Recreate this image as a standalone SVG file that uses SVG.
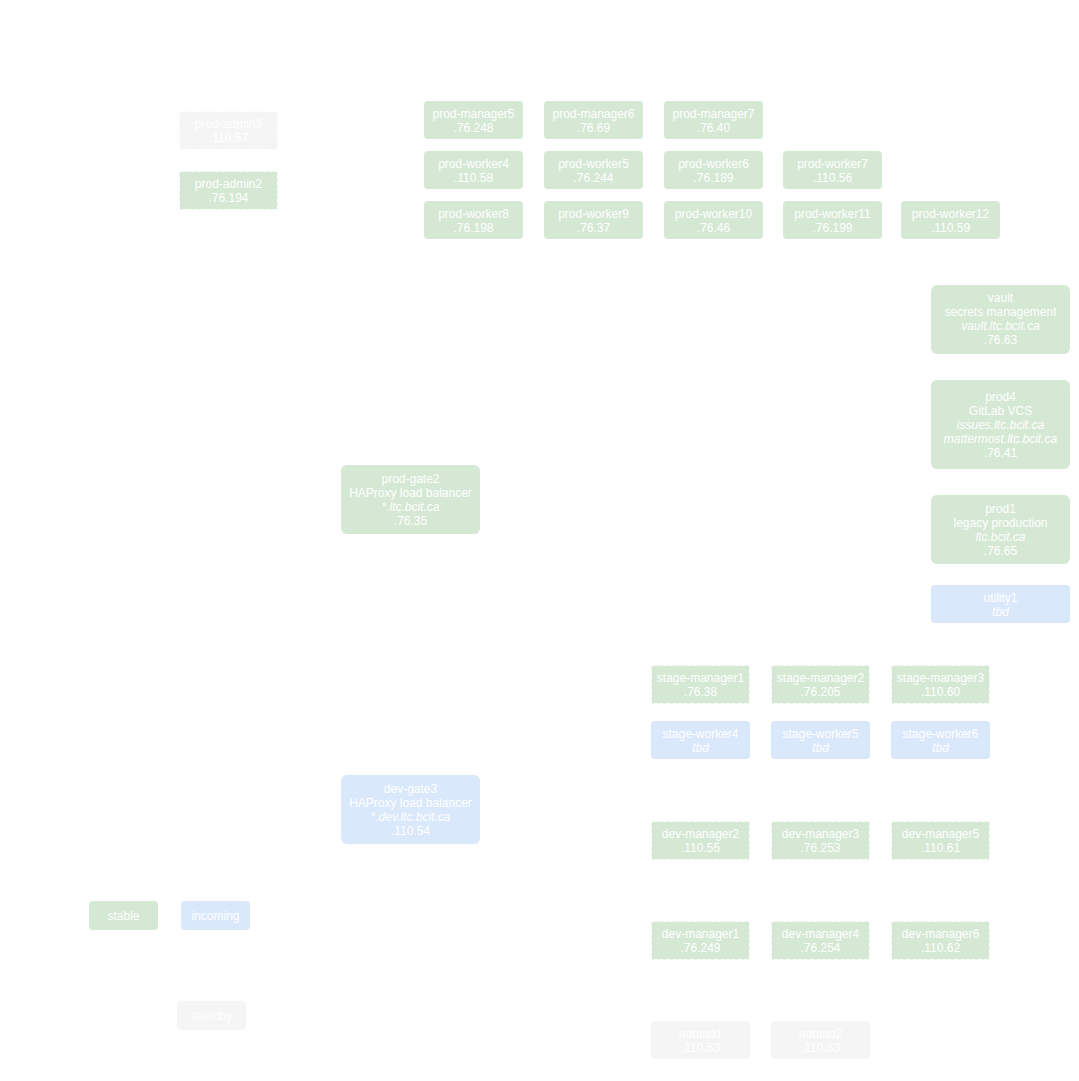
<svg xmlns="http://www.w3.org/2000/svg" width="1079" height="1081" viewBox="0 0 1079 1081">
<style>
.g{fill:#d5e8d4}
.b{fill:#dae8fc}
.s{fill:#f5f5f5}
.d{stroke:#ffffff;stroke-width:1;stroke-dasharray:3 3}
text{font-family:"Liberation Sans",Arial,Helvetica,sans-serif;font-size:12px;fill:#ffffff;text-anchor:middle}
.i{font-style:italic}
</style>
<rect width="1079" height="1081" fill="#ffffff"/>
<g id="connectors"></g>
<g transform="translate(0,1)">
<g id="prod-admin3"><rect class="s d" x="179.5" y="110.5" width="98" height="38"/><text x="228.5" y="127">prod-admin3</text><text x="228.5" y="141">.110.57</text></g>
<g id="prod-admin2"><rect class="g d" x="179.5" y="170.5" width="98" height="38"/><text x="228.5" y="187">prod-admin2</text><text x="228.5" y="201">.76.194</text></g>

<g id="prod-manager5"><rect class="g" x="424" y="100" width="99" height="38" rx="4"/><text x="473.5" y="117">prod-manager5</text><text x="473.5" y="131">.76.248</text></g>
<g id="prod-manager6"><rect class="g" x="544" y="100" width="99" height="38" rx="4"/><text x="593.5" y="117">prod-manager6</text><text x="593.5" y="131">.76.69</text></g>
<g id="prod-manager7"><rect class="g" x="664" y="100" width="99" height="38" rx="4"/><text x="713.5" y="117">prod-manager7</text><text x="713.5" y="131">.76.40</text></g>

<g id="prod-worker4"><rect class="g" x="424" y="150" width="99" height="38" rx="4"/><text x="473.5" y="167">prod-worker4</text><text x="473.5" y="181">.110.58</text></g>
<g id="prod-worker5"><rect class="g" x="544" y="150" width="99" height="38" rx="4"/><text x="593.5" y="167">prod-worker5</text><text x="593.5" y="181">.76.244</text></g>
<g id="prod-worker6"><rect class="g" x="664" y="150" width="99" height="38" rx="4"/><text x="713.5" y="167">prod-worker6</text><text x="713.5" y="181">.76.189</text></g>
<g id="prod-worker7"><rect class="g" x="783" y="150" width="99" height="38" rx="4"/><text x="832.5" y="167">prod-worker7</text><text x="832.5" y="181">.110.56</text></g>

<g id="prod-worker8"><rect class="g" x="424" y="200" width="99" height="38" rx="4"/><text x="473.5" y="217">prod-worker8</text><text x="473.5" y="231">.76.198</text></g>
<g id="prod-worker9"><rect class="g" x="544" y="200" width="99" height="38" rx="4"/><text x="593.5" y="217">prod-worker9</text><text x="593.5" y="231">.76.37</text></g>
<g id="prod-worker10"><rect class="g" x="664" y="200" width="99" height="38" rx="4"/><text x="713.5" y="217">prod-worker10</text><text x="713.5" y="231">.76.46</text></g>
<g id="prod-worker11"><rect class="g" x="783" y="200" width="99" height="38" rx="4"/><text x="832.5" y="217">prod-worker11</text><text x="832.5" y="231">.76.199</text></g>
<g id="prod-worker12"><rect class="g" x="901" y="200" width="99" height="38" rx="4"/><text x="950.5" y="217">prod-worker12</text><text x="950.5" y="231">.110.59</text></g>

<g id="vault"><rect class="g" x="931" y="284" width="139" height="69" rx="6"/><text x="1000.5" y="301">vault</text><text x="1000.5" y="315">secrets management</text><text class="i" x="1000.5" y="329">vault.ltc.bcit.ca</text><text x="1000.5" y="343">.76.63</text></g>
<g id="prod4"><rect class="g" x="931" y="379" width="139" height="89" rx="6"/><text x="1000.5" y="400">prod4</text><text x="1000.5" y="414">GitLab VCS</text><text class="i" x="1000.5" y="428">issues.ltc.bcit.ca</text><text class="i" x="1000.5" y="442">mattermost.ltc.bcit.ca</text><text x="1000.5" y="456">.76.41</text></g>
<g id="prod1"><rect class="g" x="931" y="494" width="139" height="69" rx="6"/><text x="1000.5" y="512">prod1</text><text x="1000.5" y="526">legacy production</text><text class="i" x="1000.5" y="540">ltc.bcit.ca</text><text x="1000.5" y="554">.76.65</text></g>
<g id="utility1"><rect class="b" x="931" y="584" width="139" height="38" rx="4"/><text x="1000.5" y="601">utility1</text><text class="i" x="1000.5" y="615">tbd</text></g>

<g id="prod-gate2"><rect class="g" x="341" y="464" width="139" height="69" rx="6"/><text x="410.5" y="482">prod-gate2</text><text x="410.5" y="496">HAProxy load balancer</text><text class="i" x="410.5" y="510">*.ltc.bcit.ca</text><text x="410.5" y="524">.76.35</text></g>
<g id="dev-gate3"><rect class="b" x="341" y="774" width="139" height="69" rx="6"/><text x="410.5" y="792">dev-gate3</text><text x="410.5" y="806">HAProxy load balancer</text><text class="i" x="410.5" y="820">*.dev.ltc.bcit.ca</text><text x="410.5" y="834">.110.54</text></g>

<g id="stage-manager1"><rect class="g d" x="651.5" y="664.5" width="98" height="38"/><text x="700.5" y="681">stage-manager1</text><text x="700.5" y="695">.76.38</text></g>
<g id="stage-manager2"><rect class="g d" x="771.5" y="664.5" width="98" height="38"/><text x="820.5" y="681">stage-manager2</text><text x="820.5" y="695">.76.205</text></g>
<g id="stage-manager3"><rect class="g d" x="891.5" y="664.5" width="98" height="38"/><text x="940.5" y="681">stage-manager3</text><text x="940.5" y="695">.110.60</text></g>

<g id="stage-worker4"><rect class="b" x="651" y="720" width="99" height="38" rx="4"/><text x="700.5" y="737">stage-worker4</text><text class="i" x="700.5" y="751">tbd</text></g>
<g id="stage-worker5"><rect class="b" x="771" y="720" width="99" height="38" rx="4"/><text x="820.5" y="737">stage-worker5</text><text class="i" x="820.5" y="751">tbd</text></g>
<g id="stage-worker6"><rect class="b" x="891" y="720" width="99" height="38" rx="4"/><text x="940.5" y="737">stage-worker6</text><text class="i" x="940.5" y="751">tbd</text></g>

<g id="dev-manager2"><rect class="g d" x="651.5" y="820.5" width="98" height="38"/><text x="700.5" y="837">dev-manager2</text><text x="700.5" y="851">.110.55</text></g>
<g id="dev-manager3"><rect class="g d" x="771.5" y="820.5" width="98" height="38"/><text x="820.5" y="837">dev-manager3</text><text x="820.5" y="851">.76.253</text></g>
<g id="dev-manager5"><rect class="g d" x="891.5" y="820.5" width="98" height="38"/><text x="940.5" y="837">dev-manager5</text><text x="940.5" y="851">.110.61</text></g>

<g id="dev-manager1"><rect class="g d" x="651.5" y="920.5" width="98" height="38"/><text x="700.5" y="937">dev-manager1</text><text x="700.5" y="951">.76.249</text></g>
<g id="dev-manager4"><rect class="g d" x="771.5" y="920.5" width="98" height="38"/><text x="820.5" y="937">dev-manager4</text><text x="820.5" y="951">.76.254</text></g>
<g id="dev-manager6"><rect class="g d" x="891.5" y="920.5" width="98" height="38"/><text x="940.5" y="937">dev-manager6</text><text x="940.5" y="951">.110.62</text></g>

<g id="nomad1"><rect class="s" x="651" y="1020" width="99" height="38" rx="4"/><text x="700.5" y="1037">nomad1</text><text x="700.5" y="1051">.110.53</text></g>
<g id="nomad2"><rect class="s" x="771" y="1020" width="99" height="38" rx="4"/><text x="820.5" y="1037">nomad2</text><text x="820.5" y="1051">.110.63</text></g>

<g id="stable"><rect class="g" x="89" y="900" width="69" height="29" rx="4"/><text x="123.5" y="919">stable</text></g>
<g id="incoming"><rect class="b" x="181" y="900" width="69" height="29" rx="4"/><text x="215.5" y="919">incoming</text></g>
<g id="standby"><rect class="s" x="177" y="1000" width="69" height="29" rx="4"/><text x="211.5" y="1019">standby</text></g>
</g>
</svg>
